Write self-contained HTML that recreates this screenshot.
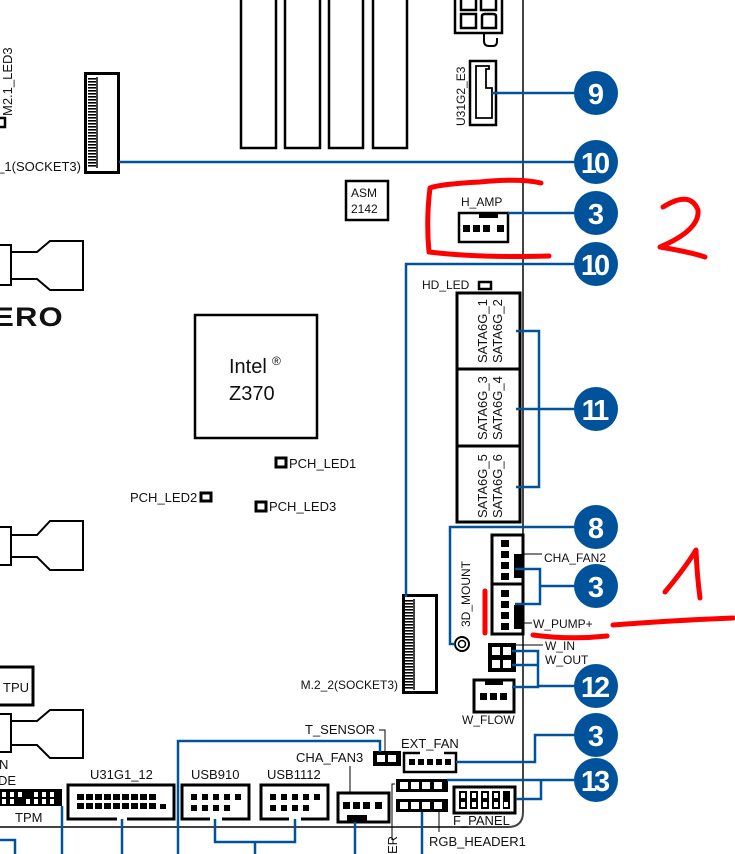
<!DOCTYPE html>
<html><head><meta charset="utf-8"><style>
html,body{margin:0;padding:0;background:#fff;width:735px;height:854px;overflow:hidden}
svg{display:block}
text{font-family:"Liberation Sans",sans-serif;fill:#111}
</style></head><body>
<svg width="735" height="854" viewBox="0 0 735 854" xmlns="http://www.w3.org/2000/svg">
<defs>
<pattern id="teeth" width="4" height="3" patternUnits="userSpaceOnUse"><rect width="7" height="1.6" fill="#000"/></pattern>
</defs>
<path d="M523 0 V812 Q523 827 508 827 H0" fill="none" stroke="#444" stroke-width="2"/>
<g fill="none" stroke="#000" stroke-width="2.5">
<rect x="241" y="-10" width="35" height="158"/>
<rect x="285" y="-10" width="35" height="158"/>
<rect x="329" y="-10" width="34" height="158"/>
<rect x="373" y="-10" width="34" height="158"/>
</g>
<rect x="85.5" y="73.5" width="33" height="99" fill="none" stroke="#000" stroke-width="3"/>
<rect x="88" y="77" width="8" height="90" fill="url(#teeth)"/>
<line x1="97" y1="77" x2="97" y2="168" stroke="#000" stroke-width="1.5"/>
<text x="81" y="171" font-size="13" text-anchor="end">_1(SOCKET3)</text>
<text transform="translate(12,116) rotate(-90)" font-size="13">M2.1_LED3</text>
<rect x="-2" y="118" width="7" height="9" fill="none" stroke="#000" stroke-width="2.5"/>
<rect x="346" y="181" width="42" height="39" fill="none" stroke="#000" stroke-width="2.5"/>
<text x="351" y="197" font-size="12">ASM</text>
<text x="351" y="213" font-size="12">2142</text>
<g fill="none" stroke="#000" stroke-width="2.5">
<rect x="455" y="-5" width="47" height="38"/>
<rect x="461" y="-2" width="15" height="12"/>
<rect x="481" y="-2" width="15" height="12"/>
<rect x="461" y="14" width="15" height="14"/>
<path d="M482 28 V16 Q482 14 485 14 H493 Q496 14 496 16 V28 Z"/>
<path d="M484 33 V41 Q484 46 489 46 H493 Q497 46 497 41 V38" stroke-width="2"/>
</g>
<rect x="470" y="61" width="26" height="64" fill="none" stroke="#000" stroke-width="2.5"/>
<path d="M476 66 H489 V69 H486 V88 H492 V118 H476 Z" fill="none" stroke="#000" stroke-width="1.8"/>
<text transform="translate(465,126) rotate(-90)" font-size="12">U31G2_E3</text>
<text x="461" y="206" font-size="12">H_AMP</text>
<rect x="459" y="213" width="49" height="29" fill="none" stroke="#000" stroke-width="2.5"/>
<rect x="479" y="214" width="19" height="4" fill="#000"/>
<g fill="#000"><rect x="463" y="225" width="7" height="7"/><rect x="473" y="225" width="7" height="7"/><rect x="483" y="225" width="7" height="7"/><rect x="497" y="225" width="7" height="7"/></g>
<rect x="195" y="315" width="122" height="123" fill="none" stroke="#000" stroke-width="2.5"/>
<text x="229" y="373" font-size="20">Intel</text><text x="272" y="365" font-size="12">®</text>
<text x="229" y="400" font-size="20">Z370</text>
<rect x="276" y="458" width="10" height="9" fill="none" stroke="#000" stroke-width="3"/>
<text x="289" y="468" font-size="13">PCH_LED1</text>
<text x="130" y="502" font-size="13">PCH_LED2</text>
<rect x="201" y="493" width="10" height="8" fill="none" stroke="#000" stroke-width="3"/>
<rect x="256" y="502" width="10" height="9" fill="none" stroke="#000" stroke-width="3"/>
<text x="269" y="511" font-size="13">PCH_LED3</text>
<g fill="none" stroke="#000" stroke-width="2">
<path d="M-2 245 H11 V285 H-2"/><path d="M11 252 H37 L50 241 H83 V290 H50 L37 279 H11"/>
<path d="M-2 527 H11 V565 H-2"/><path d="M11 535 H37 L50 521 H83 V570 H50 L37 557 H11"/>
<path d="M-2 714 H11 V752 H-2"/><path d="M11 721 H37 L50 710 H83 V758 H50 L37 745 H11"/>
</g>
<text x="-6" y="326" font-size="27" font-weight="bold" transform="scale(1.15,1)" letter-spacing="1">ERO</text>
<rect x="-5" y="667" width="38" height="38" fill="none" stroke="#000" stroke-width="3"/>
<text x="3" y="692" font-size="13">TPU</text>
<text x="-1" y="769" font-size="13">N</text>
<text x="-2" y="785" font-size="13">DE</text>
<rect x="-2" y="789" width="64" height="17" fill="#000"/>
<g fill="#fff"><rect x="2" y="792" width="4" height="5"/><rect x="2" y="799" width="4" height="5"/><rect x="10" y="792" width="4" height="5"/><rect x="10" y="799" width="4" height="5"/><rect x="18" y="792" width="4" height="5"/><rect x="26" y="799" width="4" height="5"/><rect x="34" y="792" width="4" height="5"/><rect x="34" y="799" width="4" height="5"/><rect x="42" y="792" width="4" height="5"/><rect x="42" y="799" width="4" height="5"/><rect x="50" y="792" width="4" height="5"/><rect x="50" y="799" width="4" height="5"/></g>
<text x="15" y="822" font-size="13">TPM</text>
<text x="90" y="779" font-size="13">U31G1_12</text>
<rect x="68" y="785" width="106" height="34" fill="none" stroke="#000" stroke-width="3"/>
<g fill="#000">
<rect x="77" y="794" width="7" height="6"/><rect x="86" y="794" width="7" height="6"/><rect x="95" y="794" width="7" height="6"/><rect x="104" y="794" width="7" height="6"/><rect x="113" y="794" width="7" height="6"/><rect x="122" y="794" width="7" height="6"/><rect x="131" y="794" width="7" height="6"/><rect x="140" y="794" width="7" height="6"/><rect x="149" y="794" width="7" height="6"/>
<rect x="77" y="803" width="7" height="6"/><rect x="86" y="803" width="7" height="6"/><rect x="95" y="803" width="7" height="6"/><rect x="104" y="803" width="7" height="6"/><rect x="113" y="803" width="7" height="6"/><rect x="122" y="803" width="7" height="6"/><rect x="131" y="803" width="7" height="6"/><rect x="140" y="803" width="7" height="6"/><rect x="149" y="803" width="7" height="6"/><rect x="160" y="804" width="6" height="5"/>
</g>
<rect x="117" y="817" width="10" height="4" fill="#fff"/>
<text x="191" y="779" font-size="13">USB910</text>
<rect x="182" y="785" width="67" height="34" fill="none" stroke="#000" stroke-width="3"/>
<g fill="#000"><rect x="191" y="794" width="6" height="6"/><rect x="202" y="794" width="6" height="6"/><rect x="213" y="794" width="6" height="6"/><rect x="224" y="794" width="6" height="6"/><rect x="235" y="794" width="6" height="6"/><rect x="191" y="805" width="6" height="6"/><rect x="202" y="805" width="6" height="6"/><rect x="213" y="805" width="6" height="6"/><rect x="224" y="805" width="6" height="6"/></g>
<rect x="210" y="817" width="12" height="4" fill="#fff"/>
<text x="267" y="779" font-size="13">USB1112</text>
<rect x="261" y="785" width="67" height="34" fill="none" stroke="#000" stroke-width="3"/>
<g fill="#000"><rect x="270" y="794" width="6" height="6"/><rect x="281" y="794" width="6" height="6"/><rect x="292" y="794" width="6" height="6"/><rect x="303" y="794" width="6" height="6"/><rect x="314" y="794" width="6" height="6"/><rect x="270" y="805" width="6" height="6"/><rect x="281" y="805" width="6" height="6"/><rect x="292" y="805" width="6" height="6"/><rect x="303" y="805" width="6" height="6"/></g>
<rect x="289" y="817" width="12" height="4" fill="#fff"/>
<text x="296" y="762" font-size="13">CHA_FAN3</text>
<line x1="350" y1="766" x2="350" y2="792" stroke="#000" stroke-width="1"/>
<rect x="338" y="793" width="51" height="29" fill="none" stroke="#000" stroke-width="3"/>
<g fill="#000"><rect x="343" y="802" width="7" height="7"/><rect x="353" y="802" width="7" height="7"/><rect x="363" y="802" width="7" height="7"/><rect x="375" y="802" width="7" height="7"/><rect x="347" y="815" width="20" height="6"/></g>
<text x="305" y="734" font-size="13">T_SENSOR</text>
<path d="M379 730 H385 V752" fill="none" stroke="#000" stroke-width="1"/>
<rect x="373" y="751" width="28" height="15" fill="#000"/>
<rect x="377" y="755" width="8" height="7" fill="#fff"/><rect x="388" y="755" width="8" height="7" fill="#fff"/>
<text x="401" y="748" font-size="13">EXT_FAN</text>
<path d="M420 753 H404 V772 H456 V753 H444" fill="none" stroke="#000" stroke-width="2.5"/>
<g fill="#000"><rect x="409" y="759" width="6" height="6"/><rect x="418" y="759" width="6" height="6"/><rect x="427" y="759" width="6" height="6"/><rect x="436" y="759" width="6" height="6"/><rect x="445" y="759" width="6" height="6"/></g>
<rect x="396" y="779" width="52" height="13" fill="#000"/>
<rect x="396" y="799" width="52" height="13" fill="#000"/>
<g fill="#fff"><rect x="400" y="782" width="8" height="7"/><rect x="411" y="782" width="8" height="7"/><rect x="422" y="782" width="8" height="7"/><rect x="434" y="782" width="8" height="7"/><rect x="400" y="802" width="8" height="7"/><rect x="411" y="802" width="8" height="7"/><rect x="422" y="802" width="8" height="7"/><rect x="434" y="802" width="8" height="7"/></g>
<path d="M395 784 H392 V840" fill="none" stroke="#000" stroke-width="1"/>
<text transform="translate(397,854) rotate(-90)" font-size="13">ER</text>
<line x1="439" y1="812" x2="439" y2="832" stroke="#000" stroke-width="1"/>
<text x="429" y="846" font-size="13">RGB_HEADER1</text>
<rect x="454" y="787" width="61" height="26" fill="none" stroke="#000" stroke-width="3"/>
<g fill="#000"><rect x="459" y="791" width="8" height="18"/><rect x="470" y="791" width="8" height="18"/><rect x="481" y="791" width="8" height="18"/><rect x="492" y="791" width="8" height="18"/><rect x="503" y="791" width="7" height="18"/></g>
<g fill="#fff"><rect x="461" y="793" width="4" height="5"/><rect x="461" y="802" width="4" height="5"/><rect x="472" y="793" width="4" height="5"/><rect x="472" y="802" width="4" height="5"/><rect x="483" y="793" width="4" height="5"/><rect x="483" y="802" width="4" height="5"/><rect x="494" y="793" width="4" height="5"/><rect x="494" y="802" width="4" height="5"/><rect x="504" y="802" width="4" height="5"/></g>
<text x="453" y="825" font-size="13">F_PANEL</text>
<text x="422" y="289" font-size="12">HD_LED</text>
<rect x="479" y="282" width="12" height="7" fill="none" stroke="#000" stroke-width="2.5"/>
<g fill="none" stroke="#000" stroke-width="3">
<rect x="457" y="293" width="63" height="76"/><rect x="457" y="369" width="63" height="77"/><rect x="457" y="446" width="63" height="76"/>
</g>
<g font-size="13">
<text transform="translate(487,363) rotate(-90)">SATA6G_1</text><text transform="translate(502,363) rotate(-90)">SATA6G_2</text>
<text transform="translate(487,440) rotate(-90)">SATA6G_3</text><text transform="translate(502,440) rotate(-90)">SATA6G_4</text>
<text transform="translate(487,518) rotate(-90)">SATA6G_5</text><text transform="translate(502,518) rotate(-90)">SATA6G_6</text>
</g>
<text transform="translate(470,627) rotate(-90)" font-size="12">3D_MOUNT</text>
<circle cx="462" cy="644" r="7" fill="none" stroke="#000" stroke-width="2"/>
<circle cx="462" cy="644" r="3.5" fill="none" stroke="#000" stroke-width="1.5"/>
<rect x="492" y="535" width="31" height="49" fill="none" stroke="#000" stroke-width="3"/>
<rect x="492" y="584" width="31" height="50" fill="none" stroke="#000" stroke-width="3"/>
<g fill="#000"><rect x="501" y="540" width="8" height="7"/><rect x="501" y="551" width="8" height="7"/><rect x="501" y="562" width="8" height="7"/><rect x="501" y="573" width="8" height="7"/><rect x="514" y="554" width="8" height="24"/>
<rect x="501" y="590" width="8" height="7"/><rect x="501" y="601" width="8" height="7"/><rect x="501" y="612" width="8" height="7"/><rect x="501" y="623" width="8" height="7"/><rect x="514" y="605" width="8" height="24"/></g>
<line x1="522" y1="554" x2="542" y2="554" stroke="#000" stroke-width="1"/>
<text x="544" y="562" font-size="12">CHA_FAN2</text>
<line x1="522" y1="623" x2="532" y2="623" stroke="#000" stroke-width="1"/>
<text x="533" y="628" font-size="12">W_PUMP+</text>
<rect x="488" y="643" width="28" height="29" fill="#000"/>
<g fill="#fff"><rect x="492" y="647" width="8" height="8"/><rect x="503" y="647" width="8" height="8"/><rect x="492" y="660" width="8" height="8"/><rect x="503" y="660" width="8" height="8"/></g>
<line x1="515" y1="645" x2="543" y2="645" stroke="#000" stroke-width="1"/>
<text x="545" y="650" font-size="12">W_IN</text>
<text x="545" y="664" font-size="12">W_OUT</text>
<rect x="474" y="680" width="40" height="32" fill="none" stroke="#000" stroke-width="3"/>
<g fill="#000"><rect x="480" y="693" width="7" height="7"/><rect x="490" y="693" width="7" height="7"/><rect x="500" y="693" width="7" height="7"/><rect x="485" y="681" width="18" height="4"/></g>
<text x="462" y="724" font-size="12">W_FLOW</text>
<rect x="403.5" y="595.5" width="33" height="97" fill="none" stroke="#000" stroke-width="3"/>
<rect x="405" y="599" width="8" height="90" fill="url(#teeth)"/>
<line x1="414" y1="599" x2="414" y2="690" stroke="#000" stroke-width="1.5"/>
<text x="398" y="689" font-size="12" text-anchor="end">M.2_2(SOCKET3)</text>
<g fill="none" stroke="#00529b" stroke-width="2.5">
<line x1="492" y1="93" x2="596" y2="93"/>
<line x1="119" y1="162" x2="596" y2="162"/>
<line x1="508" y1="213" x2="596" y2="213"/>
<path d="M596 264 H406 V597"/>
<path d="M516 331 H539 V487 H516 M516 409 H596"/>
<path d="M596 527 H450 V644 H455"/>
<path d="M515 569 H540 V604 H515 M540 586 H596"/>
<path d="M512 651 H538 V687 H512 M512 665 H538 M538 686 H596"/>
<path d="M380 752 V741 H178 V854"/>
<path d="M456 762 H535 V735 H596"/>
<path d="M447 780 H596 M541 780 V799 H516"/>
<path d="M0 840 H15 V854"/>
<path d="M62 806 V854"/>
<path d="M122 819 V854"/>
<path d="M215 819 V842 H295 V819 M255 842 V854"/>
<path d="M355 822 V854"/>
<path d="M422 812 V854"/>
</g>
<g fill="#00529b">
<circle cx="596" cy="93" r="22"/><circle cx="596" cy="162" r="22"/><circle cx="596" cy="213" r="22"/><circle cx="596" cy="264" r="22"/><circle cx="596" cy="409" r="22"/><circle cx="596" cy="527" r="22"/><circle cx="596" cy="586" r="22"/><circle cx="596" cy="686" r="22"/><circle cx="596" cy="735" r="22"/><circle cx="596" cy="780" r="22"/>
</g>
<g font-size="29" font-weight="bold" text-anchor="middle">
<text x="596" y="104" style="fill:#fff">9</text><text x="594" y="173" style="fill:#fff" letter-spacing="-3">10</text><text x="596" y="224" style="fill:#fff">3</text><text x="594" y="275" style="fill:#fff" letter-spacing="-3">10</text><text x="594" y="420" style="fill:#fff" letter-spacing="-3">11</text><text x="596" y="538" style="fill:#fff">8</text><text x="596" y="597" style="fill:#fff">3</text><text x="594" y="697" style="fill:#fff" letter-spacing="-3">12</text><text x="596" y="746" style="fill:#fff">3</text><text x="594" y="791" style="fill:#fff" letter-spacing="-3">13</text>
</g>
<g fill="none" stroke="#f00" stroke-width="5" stroke-linecap="round" stroke-linejoin="round">
<path d="M541 183 Q520 178 480 182 Q440 184 430 188 Q426 220 429 252 Q480 258 549 256"/>
<path d="M663 207 Q690 190 698 210 Q700 230 660 247 Q690 252 705 257"/>
<path d="M485 591 L485 633"/>
<path d="M533 635 Q570 640 607 636"/>
<path d="M613 625 Q680 620 733 618"/>
<path d="M665 592 Q685 568 696 550 Q697 575 700 598"/>
</g>
</svg>
</body></html>
